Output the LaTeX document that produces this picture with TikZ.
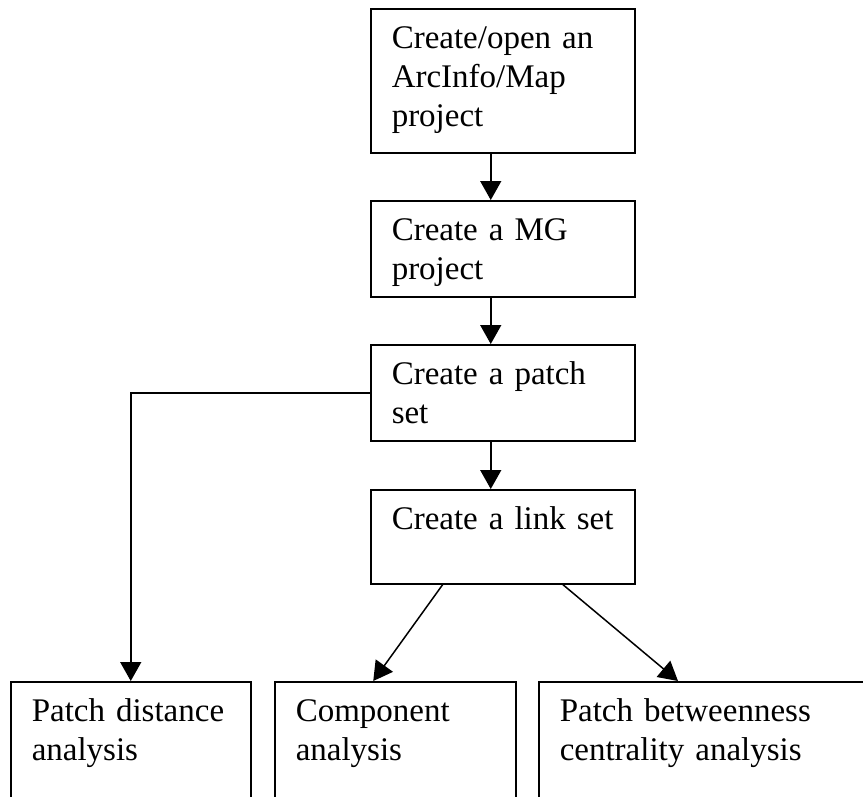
\documentclass[tikz,border=0pt]{standalone}
\usepackage{fontspec}
\setmainfont{Liberation Serif}
\usetikzlibrary{arrows.meta}

\tikzset{
  stepbox/.style={draw, line width=1.5pt, anchor=north west, align=left,
    inner xsep=21pt, inner ysep=14pt, text height=26pt, text width=222pt,
    font=\fontsize{33}{39}\selectfont},
  flow/.style={line width=1.5pt, -{Triangle[length=19pt,width=21pt]}}
}

\begin{document}
\begin{tikzpicture}[x=1pt,y=-1pt]
\useasboundingbox (0,0) rectangle (863,796);
\clip (0,0) rectangle (863,796);

% main column
\node (project)   [stepbox, text depth=90pt] at (370,8)   {Create/open an\\ArcInfo/Map\\project};
\node (mgproj)    [stepbox, text depth=42pt] at (370,200) {Create a MG\\project};
\node (patchset)  [stepbox, text depth=42pt] at (370,344) {Create a patch\\set};
\node (linkset)   [stepbox, text depth=40pt] at (370,489) {Create a link set};

% analyses
\node (distance)    [stepbox, text depth=100pt, text width=198pt] at (10,681)  {Patch distance\\analysis};
\node (component)   [stepbox, text depth=100pt, text width=199pt] at (274,681) {Component\\analysis};
\node (betweenness) [stepbox, text depth=100pt, text width=300pt] at (538,681) {Patch betweenness\\centrality analysis};

\draw[flow] ([xshift=-12pt]project.south) -- ([xshift=-12pt]mgproj.north);
\draw[flow] ([xshift=-12pt]mgproj.south) -- ([xshift=-12pt]patchset.north);
\draw[flow] ([xshift=-12pt]patchset.south) -- ([xshift=-12pt]linkset.north);
\draw[flow] (patchset.west) -| (distance.north);
\draw[flow] ([xshift=-60pt]linkset.south) -- ([xshift=-22pt]component.north);
\draw[flow] ([xshift=60pt]linkset.south) -- ([xshift=140pt]betweenness.north west);
\end{tikzpicture}
\end{document}
